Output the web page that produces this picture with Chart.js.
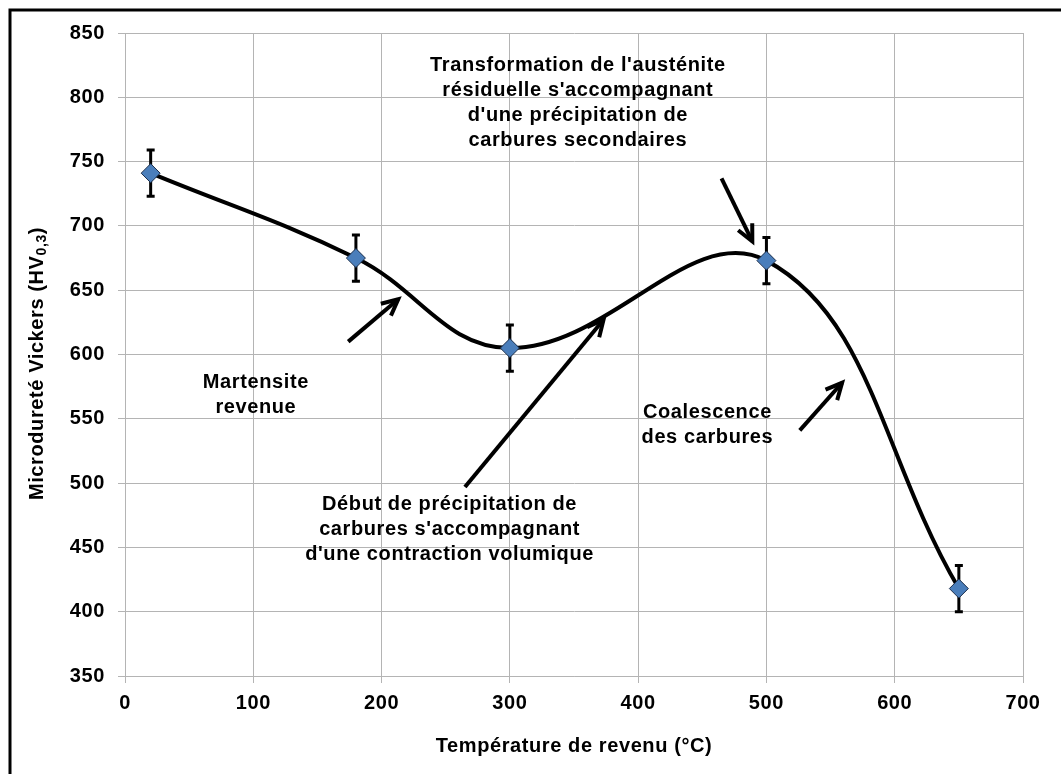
<!DOCTYPE html>
<html>
<head>
<meta charset="utf-8">
<script src="https://cdn.jsdelivr.net/npm/chart.js@4/dist/chart.umd.min.js"></script>
<style>
body { margin:0; background:#fff; }
#wrap { position:relative; width:1061px; height:774px; }
</style>
</head>
<body>
<div id="wrap"><canvas id="c" width="1061" height="774"></canvas></div>
<script>
// data
const temps = [20, 180, 300, 500, 650]
const hardness = [741, 675, 605, 673, 418]
const errors = [18, 18, 18, 18, 18]
const xTicks = [0, 100, 200, 300, 400, 500, 600, 700]
const yTicks = [350, 400, 450, 500, 550, 600, 650, 700, 750, 800, 850]

const xTitle = 'Température de revenu (°C)'
const yTitle = ['Microdureté Vickers (HV', '0,3', ')']

// annotations, in data units (x, y of first line centre)
const notes = [
	{ lines: ['Martensite', 'revenue'], x: 102, y: 578 },
	{ lines: ['Début de précipitation de', "carbures s'accompagnant", "d'une contraction volumique"], x: 253, y: 483 },
	{ lines: ["Transformation de l'austénite", "résiduelle s'accompagnant", "d'une précipitation de", 'carbures secondaires'], x: 353, y: 825 },
	{ lines: ['Coalescence', 'des carbures'], x: 454, y: 555 },
]
const arrows = [
	{ from: [174, 610], to: [213, 643] },
	{ from: [265, 497], to: [373, 627] },
	{ from: [465, 737], to: [489, 688] },
	{ from: [526, 541], to: [559, 578] },
]

const FONT = "'Liberation Sans', Arial, sans-serif"
const FS = 20
const fnt = s => ({ family: FONT, size: s, weight: 'bold' })

const overlay = {
	id: 'overlay',
	beforeDraw: c => { c.ctx.letterSpacing = '0.6px' },
	afterDatasetDraw: (c, args) => {
		if (args.index !== 1) return
		const x = c.scales.x, y = c.scales.y, ctx = c.ctx
		ctx.save()
		ctx.strokeStyle = '#000'
		ctx.lineWidth = 3
		temps.forEach((t, i) => {
			const px = x.getPixelForValue(t)
			const y1 = y.getPixelForValue(hardness[i] + errors[i])
			const y2 = y.getPixelForValue(hardness[i] - errors[i])
			ctx.beginPath()
			ctx.moveTo(px, y1); ctx.lineTo(px, y2)
			ctx.moveTo(px - 4, y1); ctx.lineTo(px + 4, y1)
			ctx.moveTo(px - 4, y2); ctx.lineTo(px + 4, y2)
			ctx.stroke()
		})
		ctx.restore()
	},
	afterDraw: c => {
		const x = c.scales.x, y = c.scales.y, ctx = c.ctx
		ctx.save()
		ctx.fillStyle = '#000'
		ctx.strokeStyle = '#000'
		ctx.font = 'bold ' + FS + 'px ' + FONT
		ctx.textAlign = 'center'
		ctx.textBaseline = 'middle'
		notes.forEach(n => {
			const px = x.getPixelForValue(n.x), py = y.getPixelForValue(n.y)
			n.lines.forEach((l, i) => ctx.fillText(l, px, py + i * 25))
		})

		ctx.lineWidth = 4
		ctx.lineCap = 'butt'
		ctx.lineJoin = 'miter'
		arrows.forEach(a => {
			const x1 = x.getPixelForValue(a.from[0]), y1 = y.getPixelForValue(a.from[1])
			const x2 = x.getPixelForValue(a.to[0]), y2 = y.getPixelForValue(a.to[1])
			const ang = Math.atan2(y2 - y1, x2 - x1)
			ctx.beginPath()
			ctx.moveTo(x1, y1); ctx.lineTo(x2, y2)
			ctx.stroke()
			ctx.beginPath()
			ctx.moveTo(x2 - 18 * Math.cos(ang - 0.45), y2 - 18 * Math.sin(ang - 0.45))
			ctx.lineTo(x2, y2)
			ctx.lineTo(x2 - 18 * Math.cos(ang + 0.45), y2 - 18 * Math.sin(ang + 0.45))
			ctx.stroke()
		})

		// y title with subscript
		ctx.translate(37, (c.chartArea.top + c.chartArea.bottom) / 2 + 9)
		ctx.rotate(-Math.PI / 2)
		ctx.textAlign = 'left'
		ctx.textBaseline = 'middle'
		const f1 = 'bold ' + FS + 'px ' + FONT, f2 = 'bold 14px ' + FONT
		ctx.font = f1; const w1 = ctx.measureText(yTitle[0]).width, w3 = ctx.measureText(yTitle[2]).width
		ctx.font = f2; const w2 = ctx.measureText(yTitle[1]).width
		let sx = -(w1 + w2 + w3) / 2
		ctx.font = f1; ctx.fillText(yTitle[0], sx, 0); sx += w1
		ctx.font = f2; ctx.fillText(yTitle[1], sx, 5); sx += w2
		ctx.font = f1; ctx.fillText(yTitle[2], sx, 0)
		ctx.setTransform(1, 0, 0, 1, 0, 0)

		// outer frame
		ctx.lineWidth = 3
		ctx.strokeRect(10, 10, 1100, 800)
		ctx.restore()
	}
}

new Chart(document.getElementById('c'), {
	type: 'scatter',
	data: {
		datasets: [
			{
				data: temps.map((t, i) => ({ x: t, y: hardness[i] })),
				showLine: false,
				pointStyle: 'rectRot',
				pointRadius: 9.5,
				backgroundColor: '#4a7ebb',
				borderColor: '#1a2d4a',
				borderWidth: 1,
			},
			{
				data: temps.map((t, i) => ({ x: t, y: hardness[i] })),
				showLine: true,
				borderColor: '#000',
				borderWidth: 4,
				pointRadius: 0,
				tension: 0.4,
				fill: false,
			},
		]
	},
	options: {
		responsive: false,
		animation: false,
		devicePixelRatio: 1,
		layout: { padding: { left: 25, top: 33, right: 38, bottom: 14 } },
		plugins: { legend: { display: false }, tooltip: { enabled: false } },
		scales: {
			x: {
				type: 'linear', min: 0, max: 700,
				afterBuildTicks: s => { s.ticks = xTicks.map(v => ({ value: v })) },
				afterFit: s => { s.height = 84 },
				ticks: { color: '#000', font: fnt(FS), padding: 8, maxRotation: 0 },
				grid: { color: '#b4b4b4', tickLength: 7 },
				border: { color: '#b4b4b4' },
				title: { display: true, text: xTitle, color: '#000', font: fnt(FS), padding: { top: 0, bottom: 2 } },
			},
			y: {
				type: 'linear', min: 350, max: 850,
				afterBuildTicks: s => { s.ticks = yTicks.map(v => ({ value: v })) },
				afterFit: s => { s.width = 100 },
				ticks: { color: '#000', font: fnt(FS), padding: 13 },
				grid: { color: '#b4b4b4', tickLength: 7 },
				border: { color: '#b4b4b4' },
			},
		},
	},
	plugins: [overlay],
})
</script>
</body>
</html>
